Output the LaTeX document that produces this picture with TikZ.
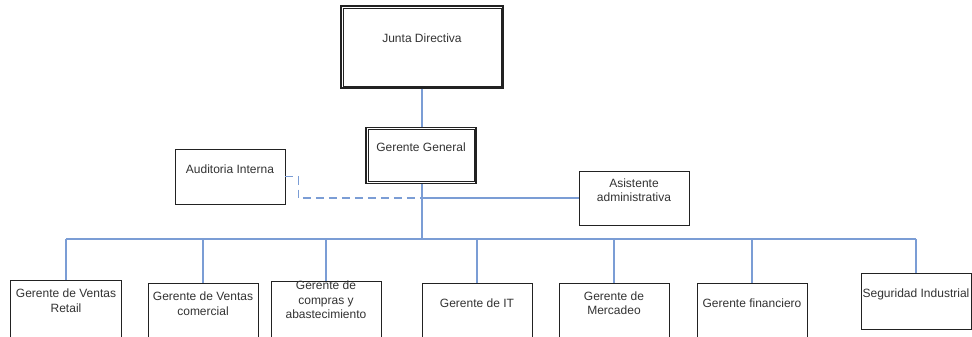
\documentclass[tikz,border=0pt]{standalone}
\usepackage{fontspec}
\setmainfont{Liberation Sans}
\setsansfont{Liberation Sans}
\usetikzlibrary{positioning, calc}
\definecolor{orgLine}{HTML}{7B9DD5}
\definecolor{orgBorder}{HTML}{222222}
\definecolor{orgText}{HTML}{333333}
\tikzset{
    orgBox/.style={
        rectangle,
        draw=orgBorder,
        fill=white,
        line width=0.9pt,
        minimum width=110pt,
        minimum height=56pt,
        inner sep=0pt
    },
    % Double framed boxes
    orgDouble/.style={orgBox, line width=1.3pt},
    orgInner/.style={draw=orgBorder, line width=0.7pt},
    orgLabel/.style={
        anchor=north,
        inner sep=0pt,
        align=center,
        text=orgText,
        font=\fontsize{12}{14.5}\selectfont\sffamily
    },
    % Connectors
    orgConn/.style={draw=orgLine, line width=1.3pt},
    orgDashed/.style={orgConn, dash pattern=on 8pt off 5pt}
}

\begin{document}
\begin{tikzpicture}[x=1pt, y=-1pt]
    \useasboundingbox (0,0) rectangle (972,337);
    \clip (0,0) rectangle (972,337);
    \coordinate (bus) at (422,239);
    % Top levels
    \node[orgDouble, minimum width=162pt, minimum height=82pt,
        label={[orgLabel, yshift=-28.7pt]north:Junta Directiva}] (junta) at (422,47) {};
    \node[orgDouble, label={[orgLabel, yshift=-15.7pt]north:Gerente General}] (gg) at (421,155.5) {};
    \foreach \n in {junta,gg}
        \draw[orgInner] ([xshift=2.6pt,yshift=-2.6pt]\n.north west) rectangle ([xshift=-2.6pt,yshift=2.6pt]\n.south east);
    \node[orgBox, minimum height=55pt,
        label={[orgLabel, yshift=-15.7pt]north:Auditoria Interna}] (aud) at (230,176.5) {};
    \node[orgBox, minimum height=54pt,
        label={[orgLabel, yshift=-7.7pt]north:Asistente\\administrativa}] (asist) at (634,198) {};
    % Managers
    \node[orgBox, anchor=north, minimum width=111pt, minimum height=62pt,
        label={[orgLabel, yshift=-8.7pt]north:Gerente de Ventas\\Retail}] (r1) at (66,280) {};
    \node[orgBox, anchor=north, minimum height=62pt,
        label={[orgLabel, yshift=-8.7pt]north:Gerente de Ventas\\comercial}] (r2) at (203,283) {};
    \node[orgBox, anchor=north, minimum height=62pt,
        label={[orgLabel, yshift=0pt]north:Gerente de\\compras y\\abastecimiento}] (r3) at (326,281) {};
    \node[orgBox, anchor=north, minimum height=62pt,
        label={[orgLabel, yshift=-15.4pt]north:Gerente de IT}] (r4) at (477,283) {};
    \node[orgBox, anchor=north, minimum height=62pt,
        label={[orgLabel, yshift=-8.4pt]north:Gerente de\\Mercadeo}] (r5) at (614,283) {};
    \node[orgBox, anchor=north, minimum height=62pt,
        label={[orgLabel, yshift=-15.4pt]north:Gerente financiero}] (r6) at (752,283) {};
    \node[orgBox, anchor=north,
        label={[orgLabel, yshift=-16pt]north:Seguridad Industrial}] (r7) at (916,273) {};
    % Lines
    \draw[orgConn] (junta.south) -- (junta.south |- gg.north);
    \draw[orgConn] (gg.south -| bus) -- (bus);
    \draw[orgConn] (bus |- asist.west) -- (asist.west);
    \draw[orgDashed] (aud.east) -- ++(13,0) |- (bus |- asist.west);
    \draw[orgConn] (bus -| r1.north) -- (bus -| r7.north);
    \foreach \n in {r1,r2,r3,r4,r5,r6,r7}
        \draw[orgConn] (bus -| \n.north) -- (\n.north);
\end{tikzpicture}
\end{document}
